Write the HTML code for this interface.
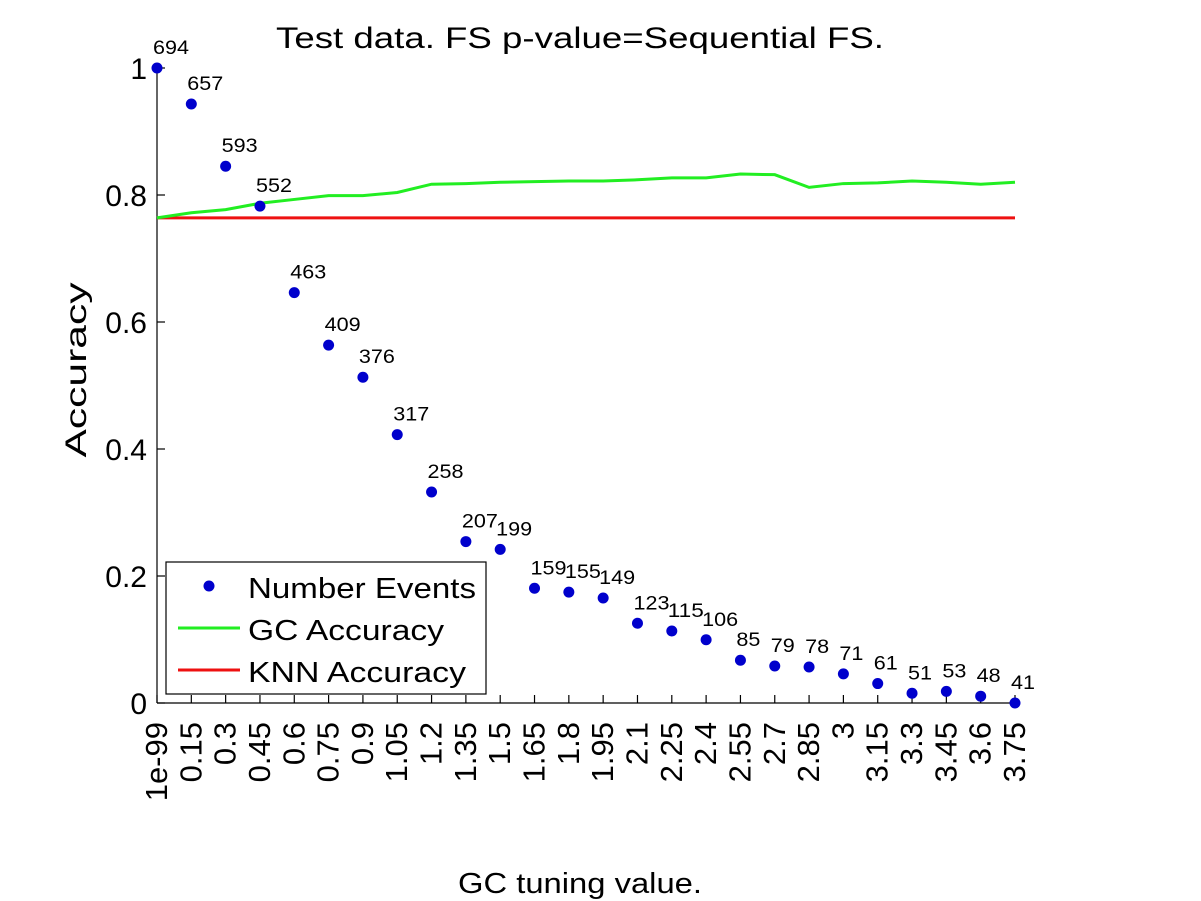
<!DOCTYPE html>
<html><head><meta charset="utf-8"><style>
body{margin:0;background:#fff}
svg{display:block;font-family:"Liberation Sans",Arial,sans-serif}
</style></head><body>
<svg id="chart" width="1201" height="901" viewBox="0 0 1201 901" xmlns="http://www.w3.org/2000/svg">
<rect width="1201" height="901" fill="#fff"/>
<text x="580" y="48" font-size="30" text-anchor="middle" textLength="608" lengthAdjust="spacingAndGlyphs">Test data. FS p-value=Sequential FS.</text>
<text x="580" y="893" font-size="29" text-anchor="middle" textLength="244" lengthAdjust="spacingAndGlyphs">GC tuning value.</text>
<text transform="translate(86,370) rotate(-90)" font-size="30" text-anchor="middle" textLength="175" lengthAdjust="spacingAndGlyphs">Accuracy</text>
<g id="axes"></g>
<g id="marks"></g>
<g id="legend">
<rect x="166" y="562" width="320" height="132" fill="#fff" stroke="#000" stroke-width="1.2"/>
<circle cx="209" cy="586" r="5.5" fill="#0000cc"/>
<text x="248" y="598" font-size="29" textLength="228" lengthAdjust="spacingAndGlyphs">Number Events</text>
<line x1="178" y1="628" x2="240" y2="628" stroke="#22ee22" stroke-width="3"/>
<text x="248" y="640" font-size="29" textLength="196" lengthAdjust="spacingAndGlyphs">GC Accuracy</text>
<line x1="178" y1="670" x2="240" y2="670" stroke="#ee1111" stroke-width="3"/>
<text x="248" y="682" font-size="29" textLength="218" lengthAdjust="spacingAndGlyphs">KNN Accuracy</text>
</g>
</svg>
<script>
const categories=["1e-99","0.15","0.3","0.45","0.6","0.75","0.9","1.05","1.2","1.35","1.5","1.65","1.8","1.95","2.1","2.25","2.4","2.55","2.7","2.85","3","3.15","3.3","3.45","3.6","3.75"];
const eventCounts=[694,657,593,552,463,409,376,317,258,207,199,159,155,149,123,115,106,85,79,78,71,61,51,53,48,41];
const gcAccuracy=[0.764,0.772,0.777,0.787,0.793,0.799,0.799,0.804,0.817,0.818,0.820,0.821,0.822,0.822,0.824,0.827,0.827,0.833,0.832,0.812,0.818,0.819,0.822,0.820,0.817,0.820];
const knnAccuracy=0.764;
const yTicks=[0,0.2,0.4,0.6,0.8,1];
const yTickLabels=["0","0.2","0.4","0.6","0.8","1"];

const X0=157,X1=1015,Y0=703,Y1=68;
const xs=i=>X0+i*(X1-X0)/(categories.length-1);
const ys=v=>Y0-v*(Y0-Y1);
const NS="http://www.w3.org/2000/svg";
function mk(tag,attrs,parent){const e=document.createElementNS(NS,tag);for(const k in attrs)e.setAttribute(k,attrs[k]);parent.appendChild(e);return e;}
const axes=document.getElementById('axes'),marks=document.getElementById('marks');

let e=mk('line',{x1:X0,y1:Y0,x2:X1,y2:Y0,stroke:'#000','stroke-width':1.2},axes);


e=mk('line',{x1:X0,y1:Y0,x2:X0,y2:Y1,stroke:'#000','stroke-width':1.2},axes);



yTicks.forEach((t,i)=>{
 const y=ys(t);
 let tk=mk('line',{x1:X0,y1:y,x2:X0+8,y2:y,stroke:'#000','stroke-width':1.2},axes);
 
 
 let tx=mk('text',{x:X0-10,y:y+11,'font-size':30,'text-anchor':'end'},axes);
 tx.textContent=yTickLabels[i];
 
 
});
categories.forEach((c,i)=>{
 const x=xs(i);
 let tk=mk('line',{x1:x,y1:Y0,x2:x,y2:Y0-8,stroke:'#000','stroke-width':1.2},axes);
 
 
 let tx=mk('text',{transform:`translate(${x+10},722) rotate(-90)`,'font-size':31,'text-anchor':'end'},axes);
 tx.textContent=c;
 
 
});

let knn=mk('line',{x1:xs(0),y1:ys(knnAccuracy),x2:xs(categories.length-1),y2:ys(knnAccuracy),stroke:'#ee1111','stroke-width':3},marks);


let gc=mk('polyline',{points:gcAccuracy.map((v,i)=>xs(i)+','+ys(v)).join(' '),fill:'none',stroke:'#22ee22','stroke-width':3},marks);



const mx=Math.max(...eventCounts),mn=Math.min(...eventCounts);
eventCounts.forEach((n,i)=>{
 const v=(n-mn)/(mx-mn),x=xs(i),y=ys(v);
 let c=mk('circle',{cx:x,cy:y,r:5.5,fill:'#0000cc'},marks);
 
 
 const s=String(n);
 let t=mk('text',{x:x-4,y:y-14,'font-size':19,textLength:s.length*12,lengthAdjust:'spacingAndGlyphs'},marks);
 t.textContent=s;
 
 
});
</script>
</body></html>
